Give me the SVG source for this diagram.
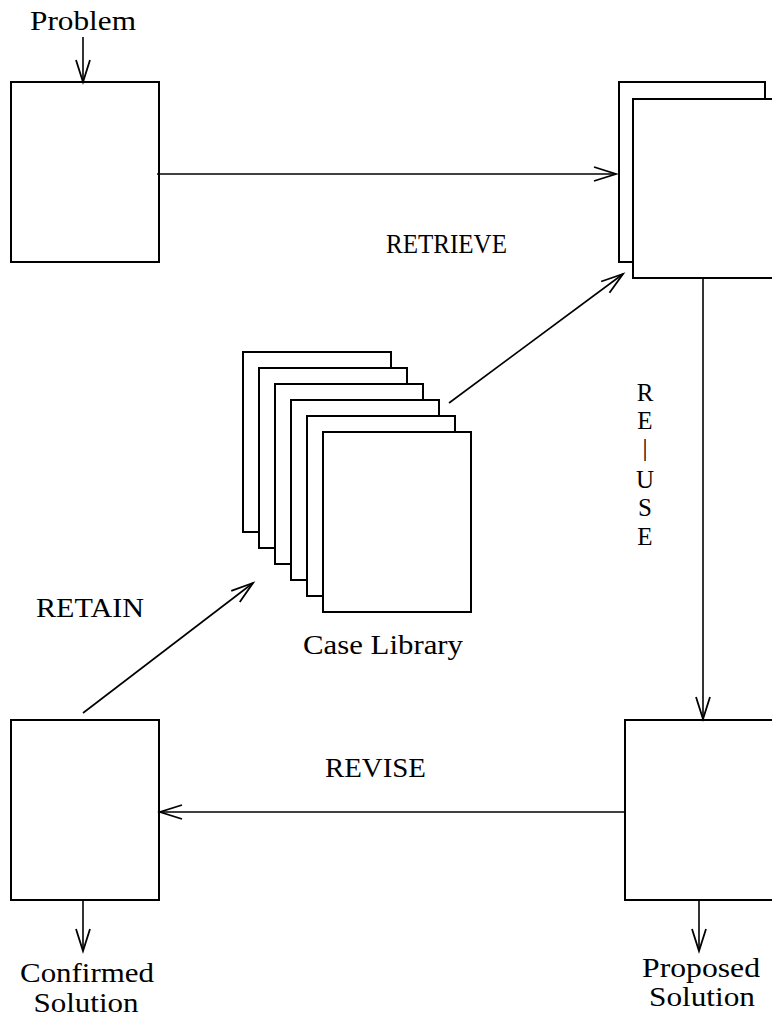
<svg xmlns="http://www.w3.org/2000/svg" width="772" height="1016" viewBox="0 0 772 1016">
<style>
.box{fill:#fff;stroke:#000;stroke-width:2}
.sheet{fill:none;stroke:#000;stroke-width:2}
.conn{fill:none;stroke:#000;stroke-width:1.6}
.t{font-family:"Times New Roman","Liberation Serif",Times,serif;font-size:28px;fill:#000}
.v{font-size:25px}
</style>
<defs>
<marker id="arr" markerUnits="userSpaceOnUse" markerWidth="30" markerHeight="20" viewBox="-24 -10 30 20" refX="0" refY="0" orient="auto">
<path d="M-22,-7 L0,0 L-22,7" fill="none" stroke="#000" stroke-width="1.8"/>
</marker>
</defs>
<rect width="772" height="1016" fill="#fff"/>
<g id="problem">
<text class="t" x="83" y="30" text-anchor="middle" textLength="106" lengthAdjust="spacingAndGlyphs">Problem</text>
<rect class="box" x="11" y="82" width="148" height="180"/>
</g>
<g id="retrieved">
<polyline class="sheet" points="634,262 619,262 619,82 765,82 765,99"/>
<rect class="box" x="633" y="99" width="160" height="179"/>
</g>
<g id="caselibrary">
<polyline class="sheet" points="259,532 243,532 243,352 391,352 391,368"/>
<polyline class="sheet" points="275,548 259,548 259,368 407,368 407,384"/>
<polyline class="sheet" points="291,564 275,564 275,384 423,384 423,400"/>
<polyline class="sheet" points="307,580 291,580 291,400 439,400 439,416"/>
<polyline class="sheet" points="323,596 307,596 307,416 455,416 455,432"/>
<rect class="box" x="323" y="432" width="148" height="180"/>
<text class="t" x="383" y="654" text-anchor="middle" textLength="160" lengthAdjust="spacingAndGlyphs">Case Library</text>
</g>
<g id="confirmed">
<rect class="box" x="11" y="720" width="148" height="180"/>
<text class="t" x="87" y="982" text-anchor="middle" textLength="134" lengthAdjust="spacingAndGlyphs">Confirmed</text>
<text class="t" x="86" y="1012" text-anchor="middle" textLength="105" lengthAdjust="spacingAndGlyphs">Solution</text>
</g>
<g id="proposed">
<rect class="box" x="625" y="720" width="160" height="180"/>
<text class="t" x="701" y="977" text-anchor="middle" textLength="118" lengthAdjust="spacingAndGlyphs">Proposed</text>
<text class="t" x="702" y="1006" text-anchor="middle" textLength="106" lengthAdjust="spacingAndGlyphs">Solution</text>
</g>
<g id="connectors">
<line class="conn" x1="83" y1="37" x2="83" y2="82" marker-end="url(#arr)"/>
<line class="conn" x1="157" y1="174" x2="616" y2="174" marker-end="url(#arr)"/>
<line class="conn" x1="449" y1="403" x2="623" y2="274" marker-end="url(#arr)"/>
<line class="conn" x1="703" y1="278" x2="703" y2="719" marker-end="url(#arr)"/>
<line class="conn" x1="625" y1="812" x2="160" y2="812" marker-end="url(#arr)"/>
<line class="conn" x1="83" y1="713" x2="253" y2="583" marker-end="url(#arr)"/>
<line class="conn" x1="83" y1="900" x2="83" y2="951" marker-end="url(#arr)"/>
<line class="conn" x1="699" y1="900" x2="699" y2="951" marker-end="url(#arr)"/>
</g>
<g id="labels">
<text class="t" x="386" y="253" textLength="121" lengthAdjust="spacingAndGlyphs">RETRIEVE</text>
<text class="t" x="36" y="617" textLength="108" lengthAdjust="spacingAndGlyphs">RETAIN</text>
<text class="t" x="325" y="777" textLength="101" lengthAdjust="spacingAndGlyphs">REVISE</text>
<text class="t v" x="645" y="401" text-anchor="middle">R</text>
<text class="t v" x="645" y="429" text-anchor="middle">E</text>
<text class="t v" x="645" y="456" text-anchor="middle">|</text>
<text class="t v" x="645" y="488" text-anchor="middle">U</text>
<text class="t v" x="645" y="516" text-anchor="middle">S</text>
<text class="t v" x="645" y="545" text-anchor="middle">E</text>
</g>
</svg>
